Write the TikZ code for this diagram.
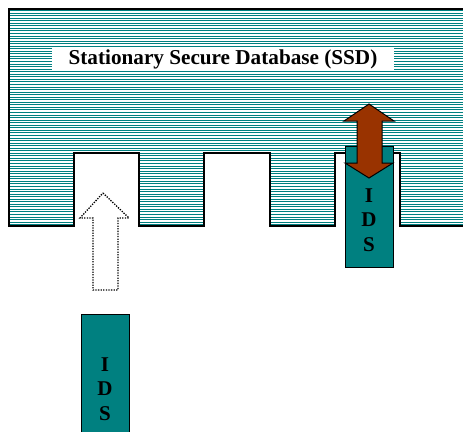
\documentclass[tikz,border=0pt]{standalone}
\usepackage{fontspec}
\setmainfont{Liberation Serif}
\definecolor{tealc}{RGB}{0,128,128}
\definecolor{brownc}{RGB}{153,51,0}
\tikzset{
  outline/.style={draw=black, line width=1.8pt, line join=miter},
  hatchline/.style={draw=tealc, line width=1pt},
  idsbox/.style={draw=black, line width=1pt, fill=tealc},
  idstext/.style={font=\fontsize{21}{24.5}\selectfont\bfseries, align=center, inner sep=0pt},
  labelbox/.style={fill=white, minimum width=342pt, minimum height=24pt, inner sep=0pt, font=\fontsize{21.2}{24}\selectfont\bfseries},
  dbarrow/.style={draw=black, line width=1pt, fill=brownc, line join=miter},
  dotarrow/.style={draw=black, line width=1.3pt, dash pattern=on 1.3pt off 1.3pt}
}
\begin{document}
\begin{tikzpicture}[x=1pt,y=-1pt]
\useasboundingbox (0,0) rectangle (463,431);
% hatched database shape
\def\ssdpath{(9,9) -- (470,9) -- (470,226) -- (400,226) -- (400,153) -- (335,153) -- (335,226) -- (270,226) -- (270,153) -- (204,153) -- (204,226) -- (139,226) -- (139,153) -- (74,153) -- (74,226) -- (9,226) -- cycle}
\begin{scope}
  \clip \ssdpath;
  \foreach \y in {10.5,13.05,...,227} {
    \draw[hatchline] (0,\y) -- (470,\y);
  }
\end{scope}
\draw[outline] (470,9) -- (9,9) -- (9,226) -- (74,226) -- (74,153) -- (139,153) -- (139,226) -- (204,226) -- (204,153) -- (270,153) -- (270,226) -- (335,226) -- (335,153) -- (400,153) -- (400,226) -- (470,226);
% label
\node[labelbox] (ssd) at (223,59) {Stationary Secure Database (SSD)};
% right IDS
\node[idsbox, minimum width=48pt, minimum height=121pt, anchor=north west, inner sep=0pt] (idsA) at (345,146) {};
\node[idstext] (idsAtext) at (369,220) {I\\D\\S};
% double arrow
\draw[dbarrow] (369,104) -- (394,121) -- (382,121) -- (382,163) -- (393,163) -- (369,178) -- (345,163) -- (357,163) -- (357,121) -- (344,121) -- cycle;
% dotted arrow
\draw[dotarrow] (103,193) -- (129,218) -- (118,218) -- (118,290) -- (93,290) -- (93,218) -- (80,218) -- cycle;
% bottom IDS
\node[idsbox, minimum width=48pt, minimum height=130pt, anchor=north west, inner sep=0pt] (idsB) at (81,314) {};
\node[idstext] (idsBtext) at (105,389) {I\\D\\S};
\end{tikzpicture}
\end{document}
